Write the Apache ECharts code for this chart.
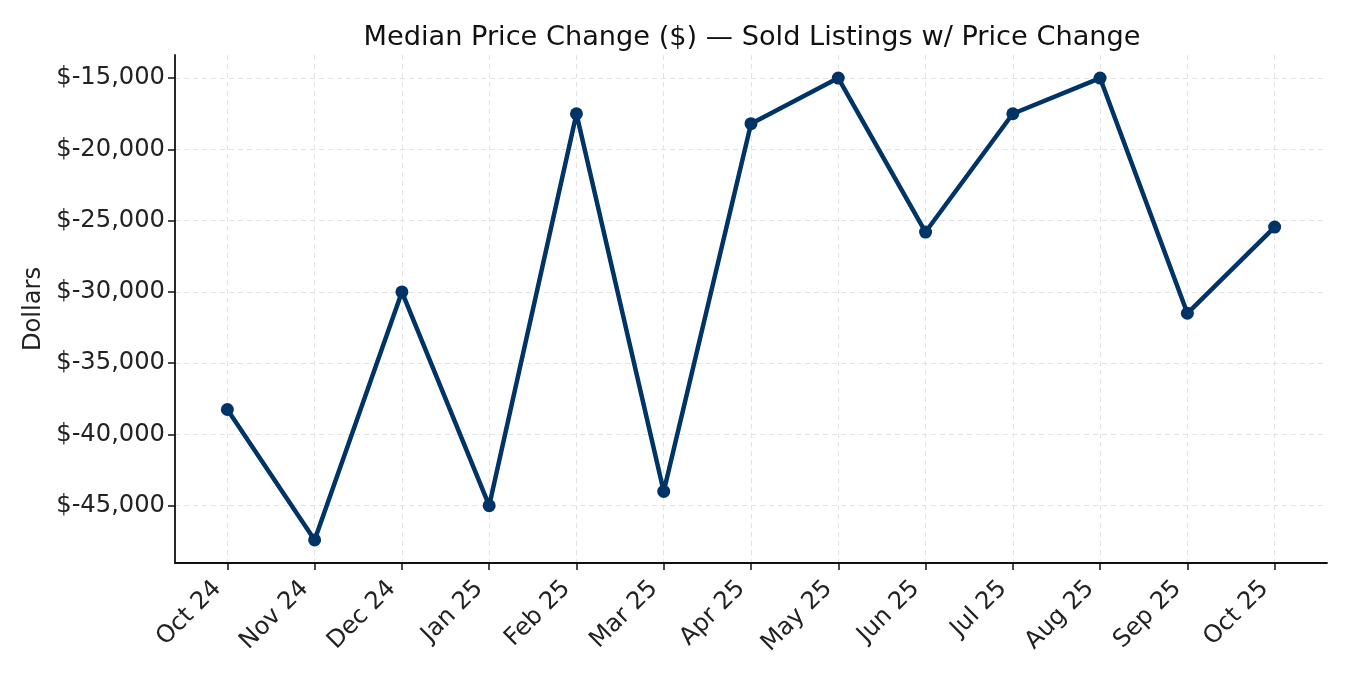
<!DOCTYPE html>
<html>
<head>
<meta charset="utf-8">
<script src="https://cdn.jsdelivr.net/npm/echarts@6/dist/echarts.min.js"></script>
<style>html,body{margin:0;padding:0;background:#fff}#c{width:1350px;height:675px}</style>
</head>
<body>
<div id="c"></div>
<script>
const categories = ['Oct 24','Nov 24','Dec 24','Jan 25','Feb 25','Mar 25','Apr 25','May 25','Jun 25','Jul 25','Aug 25','Sep 25','Oct 25'];
const medianChange = [-38250,-47400,-30000,-45000,-17500,-44000,-18200,-15000,-25800,-17500,-15000,-31500,-25450];
const yTicks = [-45000,-40000,-35000,-30000,-25000,-20000,-15000];
const xTicks = categories.map((c,i)=>i);

const FONT = 'DejaVu Sans';
const fmt = v => '$' + (v<0?'-':'') + Math.abs(v).toLocaleString('en-US');

const chart = echarts.init(document.getElementById('c'), null, {renderer:'canvas'});
chart.setOption({
  animation:false,
  backgroundColor:'#ffffff',
  title:{
    text:'Median Price Change ($) \u2014 Sold Listings w/ Price Change',
    left:747, top:19, textAlign:'center',
    textStyle:{fontFamily:FONT,fontSize:27.2,fontWeight:'normal',color:'#111'}
  },
  grid:{left:175,right:23,top:55,bottom:112,containLabel:false},
  xAxis:{
    type:'value', min:-0.6, max:12.6,
    axisLine:{show:true,onZero:false,lineStyle:{color:'#111',width:1.8}},
    axisTick:{show:true,customValues:xTicks,length:7,lineStyle:{color:'#111',width:1.5}},
    axisLabel:{customValues:xTicks,rotate:45,margin:12,padding:[0,14,0,0],fontFamily:FONT,fontSize:24.2,color:'#222',
      formatter:v=>categories[Math.round(v)]},
    splitLine:{show:true,lineStyle:{color:'#e3e3e3',type:[5,4],width:1}}
  },
  yAxis:{
    type:'value', min:-49020, max:-13380,
    name:'Dollars', nameLocation:'middle', nameGap:123, nameRotate:90,
    nameTextStyle:{fontFamily:FONT,fontSize:24.2,color:'#222'},
    axisLine:{show:true,onZero:false,lineStyle:{color:'#111',width:1.8}},
    axisTick:{show:true,customValues:yTicks,length:7,lineStyle:{color:'#111',width:1.5}},
    axisLabel:{customValues:yTicks,margin:10,fontFamily:FONT,fontSize:24.2,color:'#222',formatter:fmt},
    splitLine:{show:true,lineStyle:{color:'#e3e3e3',type:[5,4],width:1}}
  },
  series:[{
    type:'line',
    data:medianChange.map((v,i)=>[i,v]),
    lineStyle:{color:'#003366',width:4.5},
    itemStyle:{color:'#003366'},
    symbol:'circle', symbolSize:13, showSymbol:true
  }]
});
</script>
</body>
</html>
